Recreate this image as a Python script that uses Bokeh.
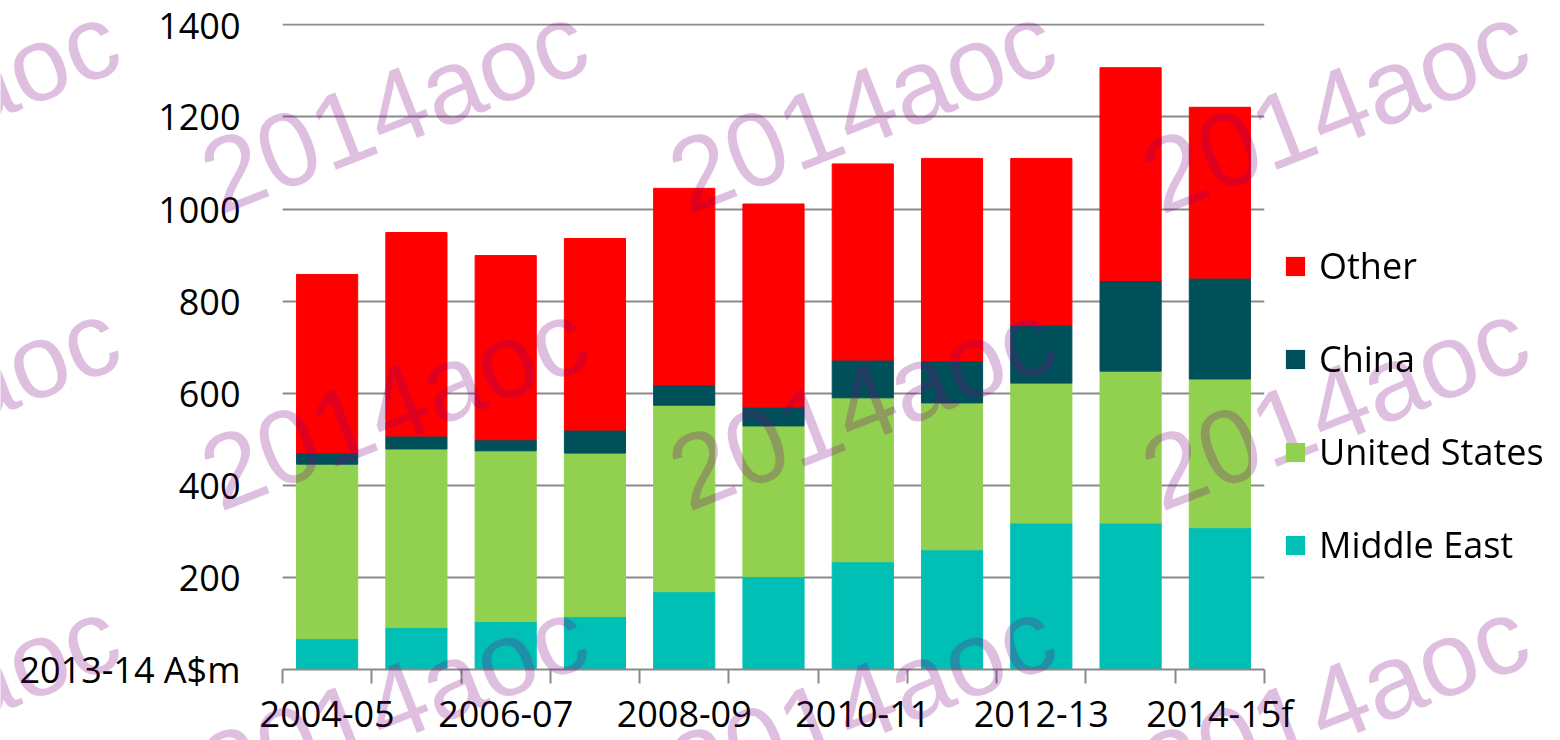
from bokeh.plotting import figure
from bokeh.models import (ColumnDataSource, Range1d, FixedTicker, Legend,
                          LegendItem, Label)
from bokeh.embed import file_html
from bokeh.resources import INLINE

# ---------------- data ----------------
years = ["2004-05", "2005-06", "2006-07", "2007-08", "2008-09", "2009-10",
         "2010-11", "2011-12", "2012-13", "2013-14", "2014-15f"]
middle_east = [67, 91, 104, 115, 169, 202, 234, 260, 318, 318, 308]
united_states = [379, 388, 371, 355, 405, 327, 356, 319, 304, 330, 323]
china = [24, 28, 24, 50, 44, 41, 82, 91, 126, 197, 219]
other = [388, 442, 400, 416, 427, 441, 426, 440, 362, 462, 371]

series = ["Middle East", "United States", "China", "Other"]
colors = ["#00BFB4", "#92D050", "#00505A", "#FF0000"]

y_ticks = [0, 200, 400, 600, 800, 1000, 1200, 1400]
y_zero_label = "2013-14 A$m"
watermark = "2014aoc"

# ---------------- styles / layout ----------------
FONT = "Open Sans"
FS = "36px"
GRID = "#8a8a8a"
W, H = 1560, 740

n = len(years)
slot = [i + 0.5 for i in range(n)]          # category centres on the x scale

source = ColumnDataSource(dict(slot=slot, years=years, **{
    "Middle East": middle_east, "United States": united_states,
    "China": china, "Other": other}))

p = figure(width=W, height=H,
           x_range=Range1d(0, n), y_range=Range1d(0, 1403),
           output_backend="svg", toolbar_location=None,
           min_border_left=282, min_border_right=296,
           min_border_top=23, min_border_bottom=70)
p.outline_line_color = None
p.background_fill_color = "white"
p.xgrid.grid_line_color = None

renderers = p.vbar_stack(series, x="slot", width=0.685, color=colors,
                         source=source)

# y axis
p.yaxis.ticker = FixedTicker(ticks=y_ticks)
p.yaxis.major_label_overrides = {0: y_zero_label}
p.yaxis.axis_line_color = None
p.yaxis.major_tick_line_color = None
p.yaxis.minor_tick_line_color = None
p.yaxis.major_tick_out = 0
p.yaxis.major_tick_in = 0
p.yaxis.major_label_standoff = 42
p.yaxis.major_label_text_font = FONT
p.yaxis.major_label_text_font_size = FS
p.yaxis.major_label_text_color = "black"

p.ygrid.ticker = FixedTicker(ticks=y_ticks)
p.ygrid.grid_line_color = GRID
p.ygrid.grid_line_width = 2

# x axis: labels every other category, tick marks at category boundaries
xaxis = p.xaxis[0]
xaxis.ticker = FixedTicker(ticks=slot[::2], minor_ticks=list(range(n + 1)))
xaxis.major_label_overrides = {s: y for s, y in zip(slot[::2], years[::2])}
xaxis.axis_line_color = GRID
xaxis.axis_line_width = 2
xaxis.major_tick_line_color = None
xaxis.major_tick_out = 14
xaxis.major_tick_in = 0
xaxis.minor_tick_line_color = GRID
xaxis.minor_tick_line_width = 2
xaxis.minor_tick_out = 14
xaxis.minor_tick_in = 0
xaxis.major_label_standoff = 5
xaxis.major_label_text_font = FONT
xaxis.major_label_text_font_size = FS
xaxis.major_label_text_color = "black"

# ---------------- transparent overlay: legend + watermark ----------------
ov = figure(width=W, height=H, x_range=Range1d(0, W), y_range=Range1d(0, H),
            x_axis_location=None, y_axis_location=None,
            output_backend="svg", toolbar_location=None,
            min_border_left=0, min_border_right=0,
            min_border_top=0, min_border_bottom=0)
ov.outline_line_color = None
ov.background_fill_color = None
ov.border_fill_color = None
ov.grid.visible = False

# legend swatches (zero-size placeholders in the series colours), Other on top
swatches = [ov.vbar(x=[0], top=[0], bottom=[0], width=0, fill_color=c,
                    line_color=None) for c in colors]
items = [LegendItem(label=s, renderers=[r])
         for s, r in reversed(list(zip(series, swatches)))]
legend = Legend(items=items, location=(1283, 171), orientation="vertical",
                glyph_width=24, glyph_height=24, label_standoff=12,
                spacing=44, padding=0, margin=0,
                border_line_color=None, background_fill_alpha=0,
                label_text_font=FONT, label_text_font_size=FS,
                label_text_color="black")
ov.add_layout(legend, "center")

# watermark grid (page pixels, y measured from the top)
wm_x = [-262, 206, 674, 1147]
wm_y = [181, 478, 776]
for X in wm_x:
    for Y in wm_y:
        ov.add_layout(Label(x=X, y=H - Y, text=watermark, angle=21.5,
                            angle_units="deg", text_font="Liberation Sans",
                            text_font_size="105px", text_color="#800080",
                            text_alpha=0.25, text_align="left",
                            text_baseline="alphabetic"))

ov.styles = {"position": "fixed", "top": "0px", "left": "0px",
             "pointer-events": "none", "z-index": "10"}

open("out.html", "w").write(file_html([p, ov], INLINE))
